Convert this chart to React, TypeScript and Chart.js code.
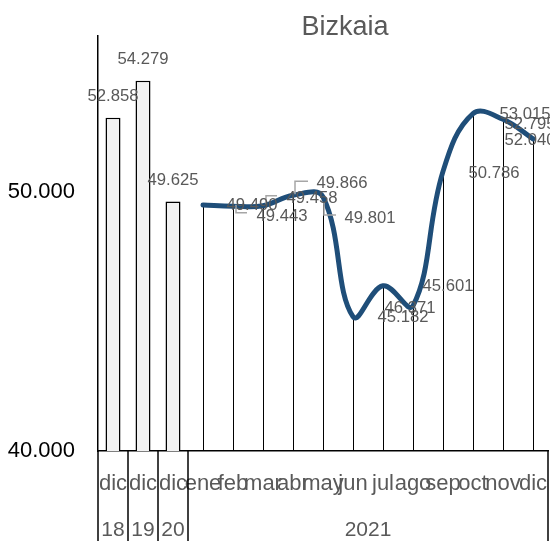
import { useEffect, useRef } from 'react';
import { Chart, registerables } from 'chart.js';

Chart.register(...registerables);

const chartTitle = 'Bizkaia';
const categories = ['dic', 'dic', 'dic', 'ene', 'feb', 'mar', 'abr', 'may', 'jun', 'jul', 'ago', 'sep', 'oct', 'nov', 'dic'];
const yearGroups = [
  { label: '18', from: 0, to: 0 },
  { label: '19', from: 1, to: 1 },
  { label: '20', from: 2, to: 2 },
  { label: '2021', from: 3, to: 14 },
];
const decemberValues = [52858, 54279, 49625, null, null, null, null, null, null, null, null, null, null, null, null];
const monthly2021Values = [null, null, null, 49490, 49443, 49458, 49866, 49801, 45182, 46371, 45601, 50786, 53015, 52795, 52040];
const yTickValues = [40000, 50000];
const yMin = 40000;
const yMax = 56000;

// label placement offsets (px) relative to each line point
const lineLabelOffsets: Array<[number, number] | null> = [
  null, null, null,
  [49, 0], [49, 10], [49, -7], [49, -12], [47, 21], [50, 1], [27, 23], [35, -19], [51, 2], [52, 1], [27, 5], [-3, 2],
];
// leader line paths relative to points
const leaderPaths: Array<Array<[number, number]> | null> = [
  null, null, null,
  null,
  [[3, -1.5], [3, 6.5], [14, 6.5]],
  [[3, -2], [3, -10], [14, -10]],
  [[2, -1], [2, -14], [15, -14]],
  [[1, 5], [1, 18], [13, 18]],
  null, null, null, null, null, null, null,
];

const FONT = "'Liberation Sans', Arial, sans-serif";

const fmt = (v: number) => String(Math.round(v)).replace(/\B(?=(\d{3})+(?!\d))/g, '.');

const customPlugin = {
  id: 'customDraw',
  beforeDatasetsDraw(chart: any) {
    const ctx = chart.ctx;
    const bottom = chart.chartArea.bottom;
    const meta = chart.getDatasetMeta(1);
    ctx.save();
    ctx.strokeStyle = '#000';
    ctx.lineWidth = 1;
    meta.data.forEach((pt: any, i: number) => {
      if (monthly2021Values[i] == null) return;
      const x = Math.round(pt.x) + 0.5;
      ctx.beginPath();
      ctx.moveTo(x, pt.y);
      ctx.lineTo(x, bottom);
      ctx.stroke();
    });
    ctx.restore();
  },
  afterDraw(chart: any) {
    const ctx = chart.ctx;
    const area = chart.chartArea;
    const xScale = chart.scales.x;
    const H = chart.height;
    ctx.save();

    // title
    ctx.fillStyle = '#595959';
    ctx.font = `27px ${FONT}`;
    ctx.textAlign = 'center';
    ctx.textBaseline = 'alphabetic';
    ctx.fillText(chartTitle, (area.left + area.right) / 2 + 22, 35);

    // bar labels
    ctx.font = `16.7px ${FONT}`;
    ctx.textBaseline = 'middle';
    const barMeta = chart.getDatasetMeta(0);
    barMeta.data.forEach((bar: any, i: number) => {
      const v = decemberValues[i];
      if (v == null) return;
      ctx.fillText(fmt(v), bar.x, bar.y - 21);
    });

    // leader lines
    const lineMeta = chart.getDatasetMeta(1);
    ctx.strokeStyle = '#a6a6a6';
    ctx.lineWidth = 1.5;
    lineMeta.data.forEach((pt: any, i: number) => {
      const path = leaderPaths[i];
      if (!path || monthly2021Values[i] == null) return;
      ctx.beginPath();
      path.forEach(([dx, dy], j) => {
        if (j === 0) ctx.moveTo(pt.x + dx, pt.y + dy);
        else ctx.lineTo(pt.x + dx, pt.y + dy);
      });
      ctx.stroke();
    });

    // line labels
    lineMeta.data.forEach((pt: any, i: number) => {
      const v = monthly2021Values[i];
      const off = lineLabelOffsets[i];
      if (v == null || !off) return;
      ctx.fillText(fmt(v), pt.x + off[0], pt.y + off[1]);
    });

    // x axis labels
    ctx.textBaseline = 'alphabetic';
    ctx.font = `22px ${FONT}`;
    categories.forEach((c, i) => {
      ctx.fillText(c, xScale.getPixelForValue(i), area.bottom + 39);
    });
    const half = (xScale.getPixelForValue(1) - xScale.getPixelForValue(0)) / 2;
    ctx.font = `21px ${FONT}`;
    const seps = new Set<number>();
    yearGroups.forEach((g) => {
      const l = xScale.getPixelForValue(g.from) - half;
      const r = xScale.getPixelForValue(g.to) + half;
      seps.add(Math.round(l));
      seps.add(Math.round(r));
      ctx.fillText(g.label, (l + r) / 2, area.bottom + 85);
    });

    // separators
    ctx.strokeStyle = '#000';
    ctx.lineWidth = 1.5;
    seps.forEach((x) => {
      ctx.beginPath();
      ctx.moveTo(x, area.bottom);
      ctx.lineTo(x, H);
      ctx.stroke();
    });
    ctx.restore();
  },
};

export default function App() {
  const ref = useRef<HTMLCanvasElement | null>(null);
  useEffect(() => {
    document.body.style.margin = '0';
    if (!ref.current) return;
    const chart = new Chart(ref.current, {
      type: 'bar',
      data: {
        labels: categories,
        datasets: [
          {
            type: 'bar',
            data: decemberValues as any,
            backgroundColor: '#f2f2f2',
            borderColor: '#000',
            borderWidth: 1.5,
            barPercentage: 0.5,
            categoryPercentage: 1,
            order: 2,
          },
          {
            type: 'line',
            data: monthly2021Values as any,
            borderColor: '#1f4e79',
            borderWidth: 5,
            pointRadius: 0,
            tension: 0.4,
            fill: false,
            borderCapStyle: 'round',
            order: 1,
          } as any,
        ],
      },
      options: {
        responsive: false,
        animation: false,
        events: [],
        layout: { padding: { top: 33, right: 2, left: 0, bottom: 0 } },
        plugins: { legend: { display: false }, tooltip: { enabled: false }, title: { display: false } },
        scales: {
          x: {
            grid: { display: false, drawTicks: false },
            border: { display: true, color: '#000', width: 1.5 },
            ticks: { display: false },
            afterFit: (s: any) => { s.height = 90; },
          },
          y: {
            min: yMin,
            max: yMax,
            grid: { display: false, drawTicks: false },
            border: { display: true, color: '#000', width: 1.5 },
            afterBuildTicks: (s: any) => { s.ticks = yTickValues.map((v) => ({ value: v })); },
            afterFit: (s: any) => { s.width = 98; },
            ticks: {
              padding: 23,
              color: '#000',
              font: { family: FONT, size: 22 },
              callback: (v: any) => fmt(Number(v)),
            },
          },
        },
      },
      plugins: [customPlugin],
    });
    return () => chart.destroy();
  }, []);
  return <canvas ref={ref} width={550} height={541} style={{ display: 'block' }} />;
}
